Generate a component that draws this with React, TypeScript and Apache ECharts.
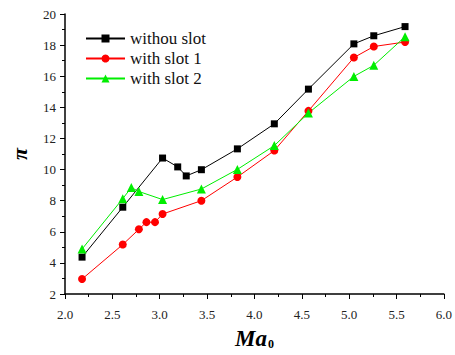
import React, { useEffect, useRef } from "react";
import * as echarts from "echarts";

// Mach number (x) vs. pressure ratio (y) for three configurations
const noSlotX = [2.18, 2.61, 3.03, 3.19, 3.28, 3.44, 3.82, 4.21, 4.57, 5.05, 5.26, 5.59];
const noSlotY = [4.37, 7.58, 10.74, 10.17, 9.59, 9.99, 11.33, 12.94, 15.17, 18.08, 18.6, 19.19];

const slot1X = [2.18, 2.61, 2.78, 2.86, 2.95, 3.03, 3.44, 3.82, 4.21, 4.57, 5.05, 5.26, 5.59];
const slot1Y = [2.96, 5.18, 6.16, 6.62, 6.62, 7.14, 8.0, 9.52, 11.22, 13.77, 17.2, 17.91, 18.2];

const slot2X = [2.18, 2.61, 2.7, 2.78, 3.03, 3.44, 3.82, 4.21, 4.57, 5.05, 5.26, 5.59];
const slot2Y = [4.89, 8.13, 8.84, 8.59, 8.07, 8.75, 10.01, 11.54, 13.63, 15.99, 16.7, 18.54];

const seriesNames = ["withou slot", "with slot 1", "with slot 2"];

const zip = (xs: number[], ys: number[]) => xs.map((x, i) => [x, ys[i]]);

const SERIF = "Liberation Serif";

export default function App() {
  const ref = useRef<HTMLDivElement>(null);

  useEffect(() => {
    if (!ref.current) return;
    const chart = echarts.init(ref.current, undefined, { renderer: "svg" });

    const axisCommon = {
      axisLine: { show: true, lineStyle: { color: "#000", width: 1.5 } },
      axisTick: { show: true, inside: false, length: 5, lineStyle: { color: "#000", width: 1 } },
      minorTick: { show: true, splitNumber: 2, length: 3, lineStyle: { color: "#000", width: 1 } },
      splitLine: { show: false },
      axisLabel: { color: "#222", fontFamily: SERIF, fontSize: 13 },
    };

    chart.setOption({
      animation: false,
      backgroundColor: "#fff",
      textStyle: { fontFamily: SERIF },
      grid: { left: 58.5, right: 8.5, top: 14, bottom: 53, containLabel: false },
      legend: {
        data: seriesNames,
        orient: "vertical",
        left: 80,
        top: 25,
        itemWidth: 39,
        itemHeight: 10,
        itemGap: 3,
        textStyle: { fontFamily: SERIF, fontSize: 17, color: "#111" },
      },
      xAxis: {
        type: "value",
        min: 2,
        max: 6,
        interval: 0.5,
        ...axisCommon,
        axisLabel: {
          ...axisCommon.axisLabel,
          margin: 14,
          formatter: (v: number) => v.toFixed(1),
        },
        name: "{a|Ma}{b|0}",
        nameLocation: "middle",
        nameGap: 32,
        nameTextStyle: {
          rich: {
            a: { fontFamily: SERIF, fontSize: 23, fontWeight: "bold", fontStyle: "italic", color: "#000" },
            b: {
              fontFamily: SERIF,
              fontSize: 12,
              fontWeight: "bold",
              color: "#000",
              verticalAlign: "bottom",
              padding: [12, 0, 0, 1],
            },
          },
        },
      },
      yAxis: {
        type: "value",
        min: 2,
        max: 20,
        interval: 2,
        ...axisCommon,
        axisLabel: { ...axisCommon.axisLabel, margin: 9 },
        name: "π",
        nameLocation: "middle",
        nameGap: 35,
        nameRotate: 90,
        nameTextStyle: {
          fontFamily: SERIF,
          fontSize: 22,
          fontWeight: "bold",
          fontStyle: "italic",
          color: "#000",
        },
      },
      series: [
        {
          name: seriesNames[0],
          type: "line",
          data: zip(noSlotX, noSlotY),
          symbol: "rect",
          symbolSize: 7,
          itemStyle: { color: "#000" },
          lineStyle: { color: "#000", width: 1 },
        },
        {
          name: seriesNames[1],
          type: "line",
          data: zip(slot1X, slot1Y),
          symbol: "circle",
          symbolSize: 8,
          itemStyle: { color: "#ff0000" },
          lineStyle: { color: "#ff0000", width: 1 },
        },
        {
          name: seriesNames[2],
          type: "line",
          data: zip(slot2X, slot2Y),
          symbol: "triangle",
          symbolSize: 9,
          itemStyle: { color: "#00ee00" },
          lineStyle: { color: "#00ee00", width: 1 },
        },
      ],
    });

    return () => chart.dispose();
  }, []);

  return <div ref={ref} style={{ width: 455, height: 355, position: "absolute", left: 0, top: 0 }} />;
}
